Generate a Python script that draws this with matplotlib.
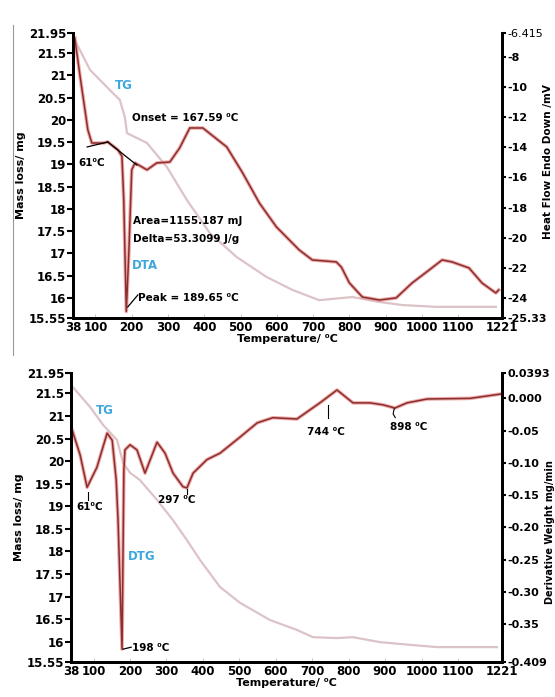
import matplotlib
matplotlib.use('Agg')
import matplotlib.pyplot as plt
from matplotlib.lines import Line2D

# ---- data ----
x_ticks = [38, 100, 200, 300, 400, 500, 600, 700, 800, 900, 1000, 1100, 1221]
mass_ticks = [15.55, 16, 16.5, 17, 17.5, 18, 18.5, 19, 19.5, 20, 20.5, 21, 21.5, 21.95]
mass_labels = ['15.55', '16', '16.5', '17', '17.5', '18', '18.5', '19', '19.5',
               '20', '20.5', '21', '21.5', '21.95']
dta_ticks = [-25.33, -24, -22, -20, -18, -16, -14, -12, -10, -8, -6.415]
dta_labels = ['-25.33', '-24', '-22', '-20', '-18', '-16', '-14', '-12', '-10', '-8', '-6.415']
dtg_ticks = [-0.409, -0.35, -0.30, -0.25, -0.20, -0.15, -0.10, -0.05, 0.0, 0.0393]
dtg_labels = ['-0.409', '-0.35', '-0.30', '-0.25', '-0.20', '-0.15', '-0.10', '-0.05',
              '0.000', '0.0393']

# top panel: TG (mg) and DTA (mV)
top_tg_temp = [43, 85, 148, 167, 181, 187, 242, 297, 352, 415, 489, 572, 643, 717,
               808, 883, 946, 1039, 1204]
top_tg_mass = [21.79, 21.12, 20.60, 20.45, 20.06, 19.70, 19.48, 18.94, 18.20, 17.46,
               16.92, 16.47, 16.18, 15.95, 16.02, 15.91, 15.84, 15.80, 15.80]
top_dta_temp = [43, 57, 79, 90, 121, 134, 162, 173, 178, 185, 192, 200, 209, 242, 269,
                305, 332, 360, 396, 462, 506, 552, 599, 662, 698, 764, 778, 800, 836,
                883, 929, 973, 1020, 1056, 1083, 1130, 1166, 1204, 1212]
top_dta_mv = [-6.75, -9.2, -12.85, -13.72, -13.72, -13.65, -14.18, -14.6, -17.5, -24.9,
              -21.0, -15.5, -15.04, -15.5, -15.04, -14.98, -14.05, -12.72, -12.72,
              -13.98, -15.71, -17.7, -19.29, -20.82, -21.48, -21.61, -21.95, -23.0,
              -23.94, -24.14, -24.0, -23.01, -22.15, -21.48, -21.61, -22.01, -23.01,
              -23.67, -23.47]

# bottom panel: TG (mg) and DTG
bot_tg_temp = [43, 90, 126, 164, 181, 200, 227, 274, 318, 356, 392, 447, 502, 584, 658,
               702, 768, 812, 886, 969, 1043, 1207]
bot_tg_mass = [21.64, 21.20, 20.80, 20.47, 19.96, 19.74, 19.58, 19.14, 18.69, 18.25,
               17.81, 17.21, 16.86, 16.48, 16.26, 16.10, 16.08, 16.10, 15.99, 15.93,
               15.88, 15.88]
bot_dtg_temp = [41, 63, 82, 109, 137, 151, 162, 167, 178, 183, 186, 200, 219, 241, 274,
                296, 318, 345, 356, 373, 411, 447, 502, 549, 592, 658, 721, 768, 812,
                859, 894, 927, 960, 1015, 1133, 1221]
bot_dtg_val = [-0.049, -0.088, -0.138, -0.107, -0.054, -0.065, -0.127, -0.189, -0.389,
               -0.111, -0.080, -0.072, -0.080, -0.116, -0.068, -0.085, -0.116, -0.137,
               -0.139, -0.116, -0.095, -0.085, -0.060, -0.038, -0.030, -0.032, -0.007,
               0.013, -0.007, -0.007, -0.010, -0.015, -0.007, -0.001, 0.000, 0.007]

TG_COLOR = '#dcc3c8'
HALO = '#ee8c8c'
DARK = '#86302f'
BLUE = '#3ea7dc'
plt.rcParams['font.family'] = 'DejaVu Sans'
plt.rcParams['font.weight'] = 'bold'

fig = plt.figure(figsize=(5.55, 6.97), dpi=100)
fig.patch.set_facecolor('white')


def style_axes(ax, ax2, right_ticks, right_labels, right_lim, right_title):
    ax.set_xlim(38, 1221)
    ax.set_ylim(15.55, 21.95)
    ax.set_xticks(x_ticks)
    ax.set_xticklabels([str(t) for t in x_ticks], fontsize=8.5, fontweight='bold')
    ax.set_yticks(mass_ticks)
    ax.set_yticklabels(mass_labels, fontsize=8.5, fontweight='bold')
    ax.tick_params(axis='y', direction='out', length=4, width=1.5, pad=1)
    ax.tick_params(axis='x', direction='in', length=3, width=0.6, pad=2, colors='#bbbbbb',
                   labelcolor='black')
    ax2.set_ylim(*right_lim)
    ax2.set_yticks(right_ticks)
    ax2.set_yticklabels(right_labels, fontsize=8, fontweight='bold')
    ax2.tick_params(axis='y', direction='out', length=3, width=1.5, pad=1)
    for a in (ax, ax2):
        a.spines['top'].set_visible(False)
        for s in ('left', 'right', 'bottom'):
            a.spines[s].set_linewidth(2.0)
    ax.set_ylabel('Mass loss/ mg', fontsize=8, fontweight='bold', labelpad=2)
    ax.set_xlabel('Temperature/ ⁰C', fontsize=8, fontweight='bold', labelpad=0)
    ax2.set_ylabel(right_title, fontsize=7.5, fontweight='bold')


# ---------------- top panel ----------------
ax1 = fig.add_axes([0.1315, 0.5438, 0.773, 0.4089])
ax1b = ax1.twinx()
style_axes(ax1, ax1b, dta_ticks, dta_labels, (-25.33, -6.415), 'Heat Flow Endo Down /mV')
ax1b.get_yticklabels()[-1].set_fontweight('normal')
ax1b.yaxis.set_label_coords(1.095, 0.55)

ax1.plot(top_tg_temp, top_tg_mass, color=TG_COLOR, lw=1.6)
ax1b.plot(top_dta_temp, top_dta_mv, color=HALO, lw=2.6, alpha=0.75)
ax1b.plot(top_dta_temp, top_dta_mv, color=DARK, lw=1.1)
# tangent / helper lines
ax1b.plot([77, 134], [-13.98, -13.65], color='black', lw=0.9)
ax1b.plot([134, 214], [-13.65, -15.18], color='black', lw=0.9)
ax1b.plot([189, 217], [-24.6, -23.8], color='black', lw=0.9)

ax1.text(178, 20.76, 'TG', color=BLUE, fontsize=8.5, fontweight='bold', ha='center', va='center')
ax1.text(200, 20.04, 'Onset = 167.59 ⁰C', fontsize=7.5, fontweight='bold', va='center')
ax1.text(52, 19.03, '61⁰C', fontsize=7.5, fontweight='bold', va='center')
ax1.text(203, 17.73, 'Area=1155.187 mJ', fontsize=7.5, fontweight='bold', va='center')
ax1.text(203, 17.32, 'Delta=53.3099 J/g', fontsize=7.5, fontweight='bold', va='center')
ax1.text(200, 16.72, 'DTA', color=BLUE, fontsize=8.5, fontweight='bold', va='center')
ax1.text(217, 16.0, 'Peak = 189.65 ⁰C', fontsize=7.5, fontweight='bold', va='center')

# ---------------- bottom panel ----------------
ax2 = fig.add_axes([0.128, 0.0502, 0.7766, 0.4146])
ax2b = ax2.twinx()
style_axes(ax2, ax2b, dtg_ticks, dtg_labels, (-0.409, 0.0393), 'Derivative Weight mg/min')
ax2b.yaxis.label.set_fontsize(7)
ax2b.yaxis.set_label_coords(1.1, 0.45)

ax2.plot(bot_tg_temp, bot_tg_mass, color=TG_COLOR, lw=1.6)
ax2b.plot(bot_dtg_temp, bot_dtg_val, color=HALO, lw=2.6, alpha=0.75)
ax2b.plot(bot_dtg_temp, bot_dtg_val, color=DARK, lw=1.1)
# peak marker lines
ax2b.plot([85, 85], [-0.145, -0.158], color='black', lw=0.8)
ax2b.plot([356, 356], [-0.140, -0.148], color='black', lw=0.8)
ax2b.plot([181, 203], [-0.389, -0.386], color='black', lw=0.9)
ax2b.plot([743, 743], [-0.010, -0.030], color='black', lw=0.8)
ax2b.plot([925, 922, 928], [-0.016, -0.024, -0.030], color='black', lw=0.8)

ax2.text(131, 21.11, 'TG', color=BLUE, fontsize=8.5, fontweight='bold', ha='center', va='center')
ax2.text(54, 18.98, '61⁰C', fontsize=7.5, fontweight='bold', va='center')
ax2.text(277, 19.14, '297 ⁰C', fontsize=7.5, fontweight='bold', va='center')
ax2.text(194, 17.88, 'DTG', color=BLUE, fontsize=8.5, fontweight='bold', va='center')
ax2.text(205, 15.86, '198 ⁰C', fontsize=7.5, fontweight='bold', va='center')
ax2.text(686, 20.64, '744 ⁰C', fontsize=7.5, fontweight='bold', va='center')
ax2.text(914, 20.75, '898 ⁰C', fontsize=7.5, fontweight='bold', va='center')

# scan border line on the left
fig.add_artist(Line2D([13 / 555, 13 / 555], [1 - 25 / 697, 1 - 355 / 697],
                      color='#999999', lw=0.8, transform=fig.transFigure))

fig.savefig('out.png', dpi=100, facecolor='white')
